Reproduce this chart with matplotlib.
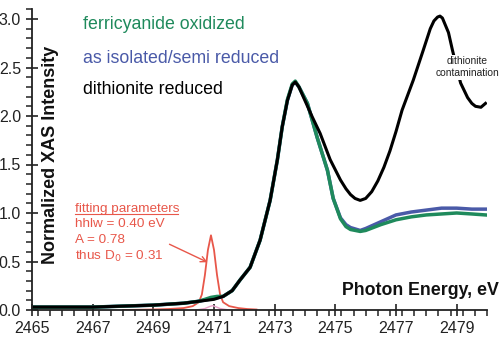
import matplotlib
matplotlib.use("Agg")
import matplotlib.pyplot as plt
from matplotlib.ticker import MultipleLocator, FormatStrFormatter

plt.rcParams['font.family'] = ['Liberation Sans', 'DejaVu Sans']

# dithionite reduced (black)
black_x = [2465, 2466, 2467, 2468, 2469, 2470, 2470.5, 2471, 2471.3, 2471.6, 2471.86, 2472.19,
           2472.52, 2472.85, 2473.09, 2473.25, 2473.42, 2473.58, 2473.68, 2473.8, 2473.94,
           2474.24, 2474.5, 2474.83, 2475.17, 2475.35, 2475.5, 2475.65, 2475.82, 2476.0,
           2476.2, 2476.4, 2476.6, 2476.8, 2477.0, 2477.2, 2477.57, 2477.9, 2478.13, 2478.25,
           2478.37, 2478.45, 2478.53, 2478.73, 2478.86, 2479.0, 2479.13, 2479.36, 2479.5,
           2479.62, 2479.8, 2479.95]
black_y = [0.03, 0.03, 0.03, 0.04, 0.05, 0.07, 0.09, 0.11, 0.14, 0.2, 0.31, 0.44,
           0.72, 1.13, 1.55, 1.89, 2.16, 2.32, 2.35, 2.3, 2.2,
           1.99, 1.82, 1.55, 1.34, 1.25, 1.19, 1.15, 1.13, 1.15,
           1.22, 1.33, 1.47, 1.64, 1.84, 2.06, 2.37, 2.68, 2.9, 2.98,
           3.02, 3.03, 3.01, 2.86, 2.68, 2.5, 2.34, 2.19, 2.13,
           2.1, 2.09, 2.13]

# as isolated / semi reduced (blue)
blue_x = [2465, 2466, 2467, 2468, 2469, 2470, 2470.5, 2471, 2471.3, 2471.6, 2471.86, 2472.19,
          2472.52, 2472.85, 2473.09, 2473.25, 2473.42, 2473.58, 2473.68, 2473.8, 2474.08,
          2474.4, 2474.74, 2474.93, 2475.17, 2475.35, 2475.5, 2475.82, 2476.0, 2476.5, 2477.0,
          2477.5, 2478.0, 2478.5, 2479.0, 2479.5, 2479.95]
blue_y = [0.03, 0.03, 0.03, 0.04, 0.05, 0.07, 0.09, 0.12, 0.14, 0.2, 0.31, 0.44,
          0.72, 1.13, 1.55, 1.89, 2.16, 2.32, 2.35, 2.3, 2.13,
          1.78, 1.44, 1.15, 0.95, 0.88, 0.85, 0.82, 0.84, 0.91, 0.98,
          1.01, 1.03, 1.05, 1.05, 1.04, 1.04]

# ferricyanide oxidized (green)
green_x = [2465, 2466, 2467, 2468, 2469, 2470, 2470.5, 2470.7, 2470.9, 2471.1, 2471.3, 2471.6,
           2471.86, 2472.19, 2472.52, 2472.85, 2473.09, 2473.25, 2473.42, 2473.58, 2473.68,
           2473.8, 2474.08, 2474.4, 2474.74, 2474.93, 2475.17, 2475.35, 2475.5, 2475.82, 2476.0,
           2476.5, 2477.0, 2477.5, 2478.0, 2478.5, 2479.0, 2479.5, 2479.95]
green_y = [0.03, 0.03, 0.03, 0.04, 0.05, 0.07, 0.09, 0.11, 0.13, 0.14, 0.14, 0.2,
           0.31, 0.44, 0.72, 1.13, 1.55, 1.89, 2.17, 2.33, 2.36,
           2.3, 2.13, 1.78, 1.44, 1.15, 0.94, 0.86, 0.83, 0.81, 0.82,
           0.88, 0.93, 0.96, 0.98, 0.99, 1.0, 0.99, 0.98]

# pre-edge fit (red)
fit_x = [2468.0, 2469.0, 2469.5, 2470.0, 2470.3, 2470.5, 2470.6, 2470.7, 2470.8, 2470.9,
         2471.0, 2471.1, 2471.2, 2471.3, 2471.5, 2471.8, 2472.1, 2472.4]
fit_y = [0.0, 0.005, 0.01, 0.02, 0.04, 0.08, 0.16, 0.36, 0.62, 0.77,
         0.62, 0.36, 0.16, 0.08, 0.04, 0.02, 0.01, 0.005]

# small residual peak (pink)
pink_x = [2470.4, 2470.7, 2470.85, 2470.95, 2471.05, 2471.2, 2471.5]
pink_y = [0.0, 0.015, 0.035, 0.045, 0.035, 0.015, 0.0]

fig = plt.figure(figsize=(5.02, 3.5), dpi=100)
ax = fig.add_axes([32 / 502, 40 / 350, 455 / 502, 300.7 / 350])

ax.plot(pink_x, pink_y, color='#e8a0c8', lw=1.0)
ax.plot(fit_x, fit_y, color='#e8574a', lw=1.3)
ax.plot(blue_x, blue_y, color='#4a5aa8', lw=2.5)
ax.plot(green_x, green_y, color='#1f8a5c', lw=2.5)
ax.plot(black_x, black_y, color='black', lw=2.2)

ax.set_xlim(2465, 2480)
ax.set_ylim(0, 3.1)
ax.xaxis.set_minor_locator(MultipleLocator(0.4))
ax.yaxis.set_major_locator(MultipleLocator(0.5))
ax.yaxis.set_minor_locator(MultipleLocator(0.1))
ax.set_xticks([2465, 2467, 2469, 2471, 2473, 2475, 2477, 2479])
ax.yaxis.set_major_formatter(FormatStrFormatter('%.1f'))
ax.tick_params(which='major', direction='inout', length=9, width=1.2, labelsize=11.5,
               colors='#222222')
ax.tick_params(which='minor', direction='out', length=4, width=1.1, colors='#222222')
ax.spines['top'].set_visible(False)
ax.spines['right'].set_visible(False)
for side in ['left', 'bottom']:
    ax.spines[side].set_linewidth(1.3)
    ax.spines[side].set_color('#222222')

ax.text(0.04, 0.515, 'Normalized XAS Intensity', transform=ax.transAxes, rotation=90,
        ha='center', va='center', fontsize=13, fontweight='bold', color='#111111')
ax.text(2480.4, 0.206, 'Photon Energy, eV', ha='right', va='center', fontsize=12.8,
        fontweight='bold', color='#111111', clip_on=False)

ax.text(2466.68, 2.9, 'ferricyanide oxidized', color='#1f8a5c', fontsize=12.8, va='baseline')
ax.text(2466.68, 2.55, 'as isolated/semi reduced', color='#4a5aa8', fontsize=12.8, va='baseline')
ax.text(2466.68, 2.23, 'dithionite reduced', color='black', fontsize=12.8, va='baseline')

ax.text(2479.36, 2.5, 'dithionite\ncontamination', ha='center', va='center', fontsize=7.4,
        color='#222222', linespacing=1.25,
        bbox=dict(facecolor='white', edgecolor='none', pad=1))

red = '#e8574a'
ax.text(2466.42, 1.01, 'fitting parameters', color=red, fontsize=9.7, va='baseline')
ax.plot([2466.42, 2469.82], [0.985, 0.985], color=red, lw=0.8)
ax.text(2466.42, 0.855, 'hhlw = 0.40 eV', color=red, fontsize=9.7, va='baseline')
ax.text(2466.42, 0.69, 'A = 0.78', color=red, fontsize=9.7, va='baseline')
ax.text(2466.42, 0.515, 'thus D$_0$ = 0.31', color=red, fontsize=9.7, va='baseline')
ax.annotate('', xy=(2470.87, 0.48), xytext=(2469.45, 0.69),
            arrowprops=dict(arrowstyle='->', color=red, lw=1.0))

fig.savefig('out.png', dpi=100)
